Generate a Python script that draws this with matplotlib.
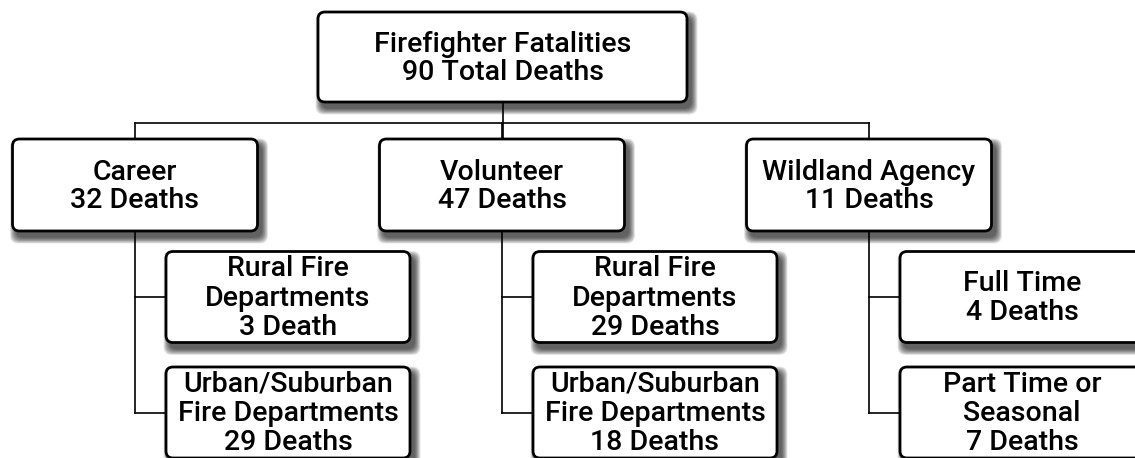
import matplotlib
matplotlib.use("Agg")
import matplotlib.pyplot as plt
from matplotlib.patches import FancyBboxPatch
from matplotlib import font_manager

# chart content
top_title = "Firefighter Fatalities"
total_deaths = 90
groups = ["Career", "Volunteer", "Wildland Agency"]
group_deaths = [32, 47, 11]
sub_names = [["Rural Fire\nDepartments", "Urban/Suburban\nFire Departments"],
             ["Rural Fire\nDepartments", "Urban/Suburban\nFire Departments"],
             ["Full Time", "Part Time or\nSeasonal"]]
sub_deaths = [[3, 29], [29, 18], [4, 7]]
sub_units = [["Death", "Deaths"], ["Deaths", "Deaths"], ["Deaths", "Deaths"]]

# layout (pixels)
W, H = 1135, 458
top_x, top_y, top_w, top_h = 318, 12, 369, 90
bus_y = 123
group_cx = [135, 502, 869]
group_y, group_w, group_h = 139, 245, 92
sub_dx, sub_w, sub_h = 31, 244, 91
sub_cy = [297, 412.5]

names = {f.name for f in font_manager.fontManager.ttflist}
FONT = "Roboto" if "Roboto" in names else "DejaVu Sans"


def box(ax, x0, y0, w, h, text, fs, line_h):
    # soft drop shadow
    for r in range(8, 0, -1):
        ax.add_patch(FancyBboxPatch((x0 + 4 - r * 0.8, y0 + 6 - r * 0.8), w + r * 1.6, h + r * 1.6,
                                    boxstyle="round,pad=0,rounding_size=8", fc="black",
                                    ec="none", alpha=0.11, zorder=1))
    ax.add_patch(FancyBboxPatch((x0, y0), w, h, boxstyle="round,pad=0,rounding_size=7",
                                fc="white", ec="black", lw=2.0, zorder=3))
    rows = text.split("\n")
    for k, row in enumerate(rows):
        yb = y0 + h / 2 + 8.5 + (k - (len(rows) - 1) / 2) * line_h
        ax.text(x0 + w / 2, yb, row, ha="center", va="baseline", fontsize=fs,
                family=FONT, weight="medium", zorder=4)


fig = plt.figure(figsize=(W / 100, H / 100), dpi=100)
ax = fig.add_axes([0, 0, 1, 1])
ax.set_xlim(0, W)
ax.set_ylim(H, 0)
ax.axis("off")

lk = dict(color="black", lw=1.2, zorder=2)
top_cx = top_x + top_w / 2
ax.plot([top_cx, top_cx], [top_y + top_h, group_y], **lk)
ax.plot([group_cx[0], group_cx[-1]], [bus_y, bus_y], **lk)

box(ax, top_x, top_y, top_w, top_h, f"{top_title}\n{total_deaths} Total Deaths", 20.5, 28)

for i, g in enumerate(groups):
    cx = group_cx[i]
    ax.plot([cx, cx], [bus_y, group_y], **lk)
    ax.plot([cx, cx], [group_y + group_h, sub_cy[-1]], **lk)
    box(ax, cx - group_w / 2, group_y, group_w, group_h, f"{g}\n{group_deaths[i]} Deaths", 20.5, 28)
    for j, name in enumerate(sub_names[i]):
        ax.plot([cx, cx + sub_dx], [sub_cy[j], sub_cy[j]], **lk)
        label = f"{name}\n{sub_deaths[i][j]} {sub_units[i][j]}"
        box(ax, cx + sub_dx, sub_cy[j] - sub_h / 2, sub_w, sub_h, label, 20.5, 29.5)

fig.savefig("out.png", dpi=100)
